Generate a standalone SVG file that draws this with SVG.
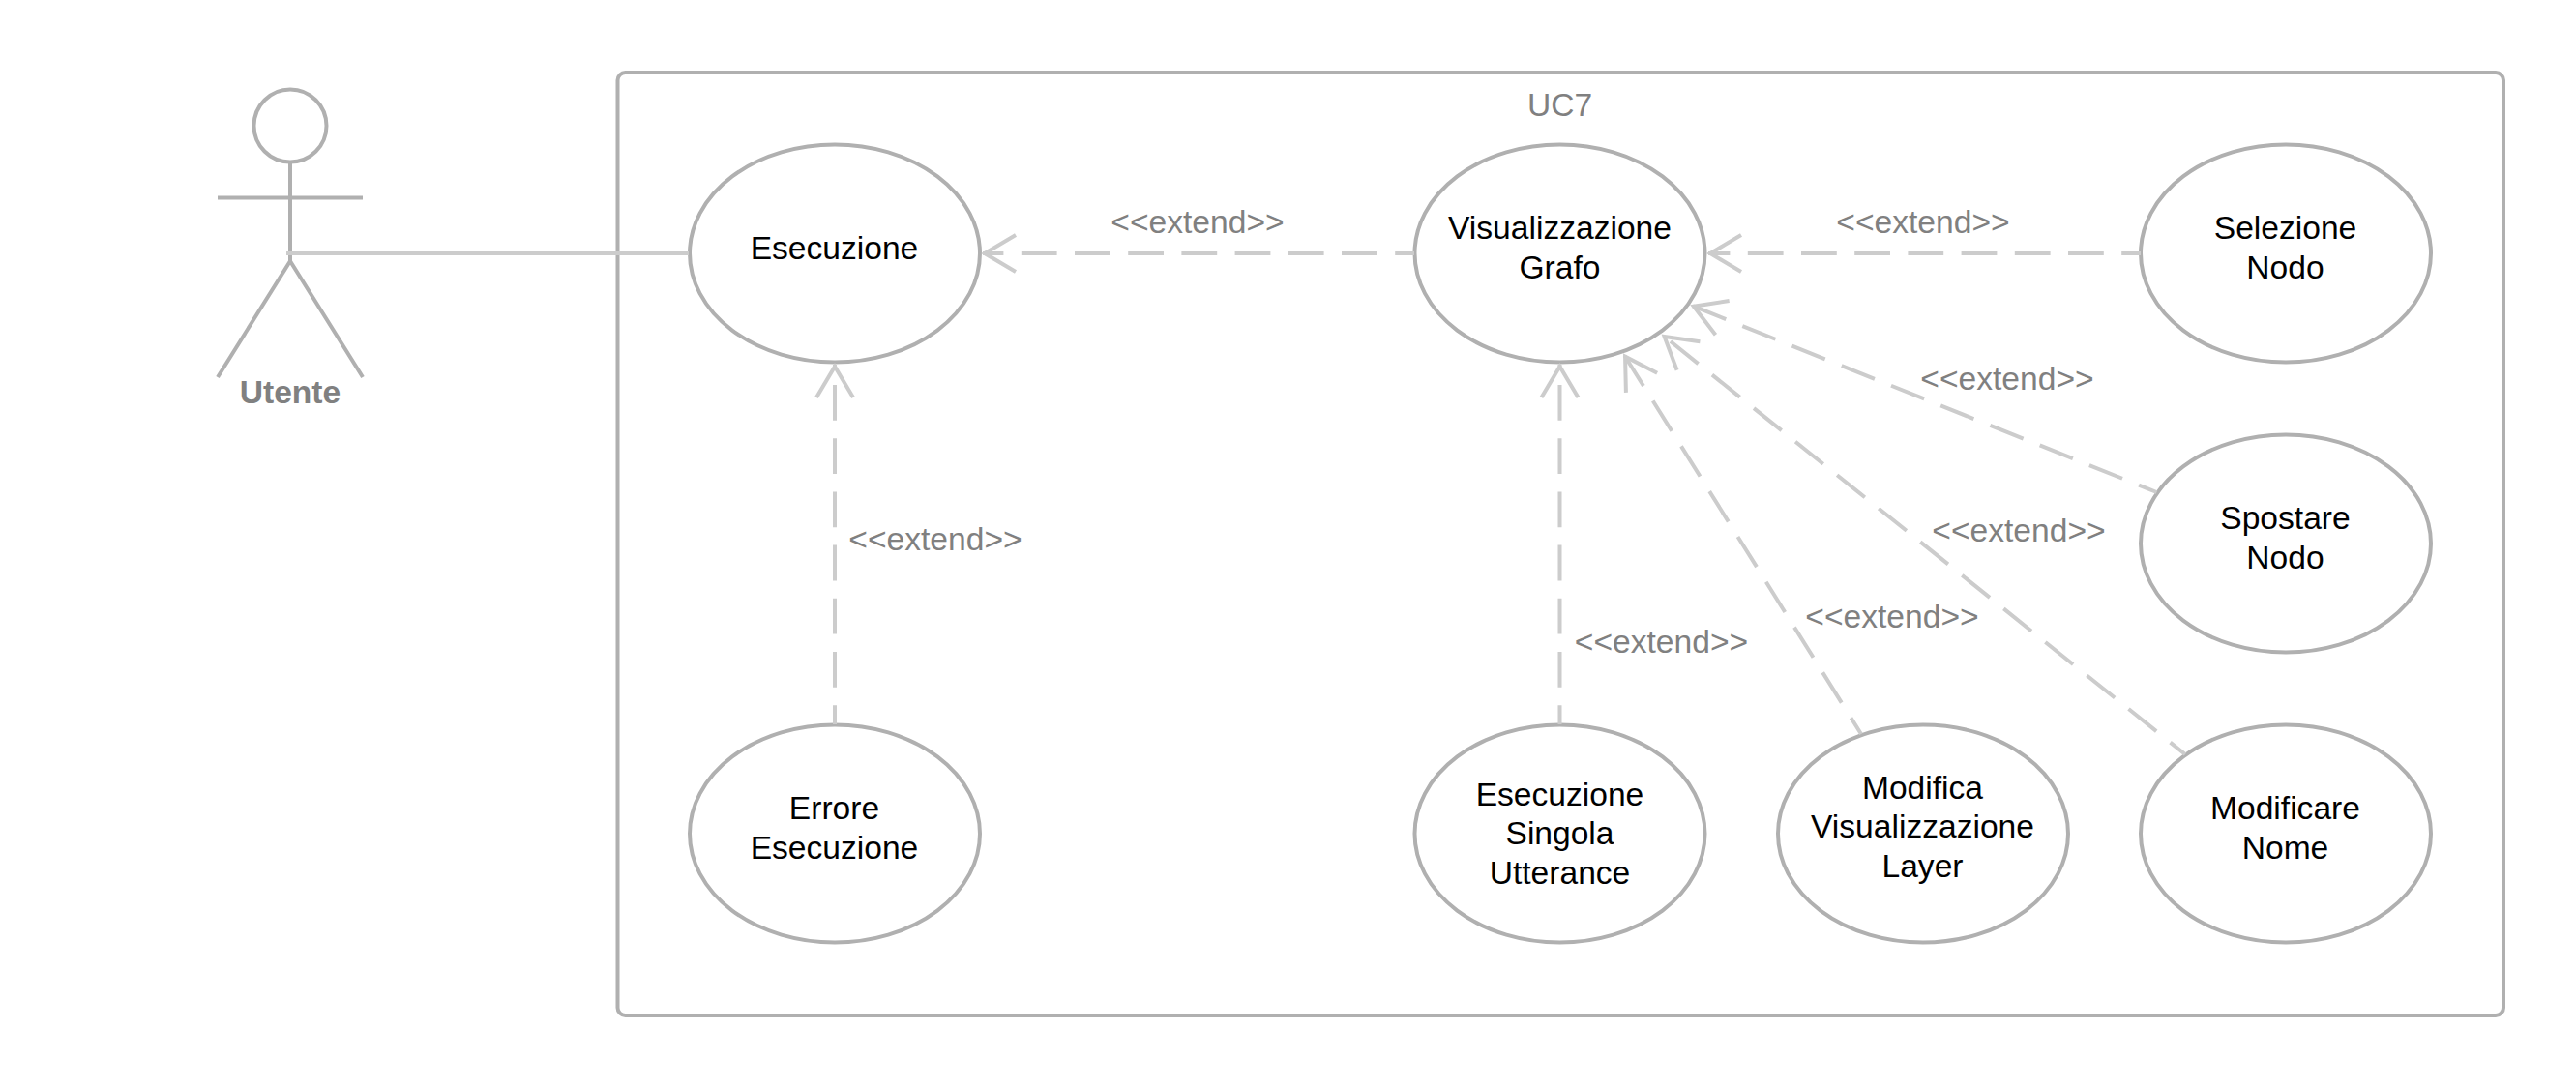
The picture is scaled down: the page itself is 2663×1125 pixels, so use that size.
<svg xmlns="http://www.w3.org/2000/svg" width="2663" height="1125" viewBox="0 0 2663 1125">
<style>
text{font-family:"Liberation Sans",Arial,sans-serif;font-size:33.6px;text-anchor:middle;fill:#000}
.lbl{fill:#808080}
.uc{fill:#fff;stroke:#b0b0b0;stroke-width:4}
.st{fill:none;stroke:#b0b0b0;stroke-width:4}
.dep{fill:none;stroke:#ccc;stroke-width:4;stroke-dasharray:36.8 18.4;stroke-dashoffset:17;marker-end:url(#open)}
.as{fill:none;stroke:#ccc;stroke-width:4}
</style>
<defs>
<marker id="open" markerUnits="userSpaceOnUse" markerWidth="60" markerHeight="60" refX="47" refY="30" orient="auto" overflow="visible">
<path d="M13,11 L45,30 L13,49" fill="none" stroke="#ccc" stroke-width="4"/>
</marker>
</defs>
<rect width="2663" height="1125" fill="#fff"/>
<g id="system"><rect x="638.5" y="75" width="1949.5" height="975" rx="8" class="st"/><text x="1612.5" y="120" class="lbl">UC7</text></g>
<g id="actor-utente"><circle cx="300" cy="130" r="37.5" class="st"/><path d="M300,168V270M225,204.500H375M225,390L300,270L375,390" class="st"/><text x="300" y="417" class="lbl" font-weight="bold">Utente</text></g>
<g id="uc-esecuzione"><ellipse cx="863" cy="262" rx="150" ry="112.500" class="uc"/><text x="862.500" y="268">Esecuzione</text></g>
<g id="uc-visualizzazione-grafo"><ellipse cx="1612.500" cy="262" rx="150" ry="112.500" class="uc"/><text x="1612.500" y="247">Visualizzazione</text><text x="1612.500" y="288">Grafo</text></g>
<g id="uc-selezione-nodo"><ellipse cx="2363" cy="262" rx="150" ry="112.500" class="uc"/><text x="2362.500" y="247">Selezione</text><text x="2362.500" y="288">Nodo</text></g>
<g id="uc-spostare-nodo"><ellipse cx="2363" cy="562" rx="150" ry="112.500" class="uc"/><text x="2362.500" y="547">Spostare</text><text x="2362.500" y="588">Nodo</text></g>
<g id="uc-errore-esecuzione"><ellipse cx="863" cy="862" rx="150" ry="112.500" class="uc"/><text x="862.500" y="847">Errore</text><text x="862.500" y="888">Esecuzione</text></g>
<g id="uc-esecuzione-singola"><ellipse cx="1612.500" cy="862" rx="150" ry="112.500" class="uc"/><text x="1612.500" y="833">Esecuzione</text><text x="1612.500" y="873">Singola</text><text x="1612.500" y="914">Utterance</text></g>
<g id="uc-modifica-layer"><ellipse cx="1988" cy="862" rx="150" ry="112.500" class="uc"/><text x="1987.500" y="826">Modifica</text><text x="1987.500" y="866">Visualizzazione</text><text x="1987.500" y="907">Layer</text></g>
<g id="uc-modificare-nome"><ellipse cx="2363" cy="862" rx="150" ry="112.500" class="uc"/><text x="2362.500" y="847">Modificare</text><text x="2362.500" y="888">Nome</text></g>
<g id="connectors">
<path class="as" d="M296,262H712"/>
<path class="dep" d="M1462,262H1016"/>
<path class="dep" d="M2213,262H1766"/>
<path class="dep" d="M2229.500,509L1749,316"/>
<path class="dep" d="M2259,780L1719,346.700"/>
<path class="dep" d="M1924,759L1679,367"/>
<path class="dep" d="M1612.500,749V377"/>
<path class="dep" d="M863,749V377"/>
<text x="1238" y="241" class="lbl">&lt;&lt;extend&gt;&gt;</text>
<text x="1988" y="241" class="lbl">&lt;&lt;extend&gt;&gt;</text>
<text x="2075" y="403" class="lbl">&lt;&lt;extend&gt;&gt;</text>
<text x="2087" y="560" class="lbl">&lt;&lt;extend&gt;&gt;</text>
<text x="1956" y="649" class="lbl">&lt;&lt;extend&gt;&gt;</text>
<text x="1717.500" y="675" class="lbl">&lt;&lt;extend&gt;&gt;</text>
<text x="967" y="569" class="lbl">&lt;&lt;extend&gt;&gt;</text>
</g>
</svg>
